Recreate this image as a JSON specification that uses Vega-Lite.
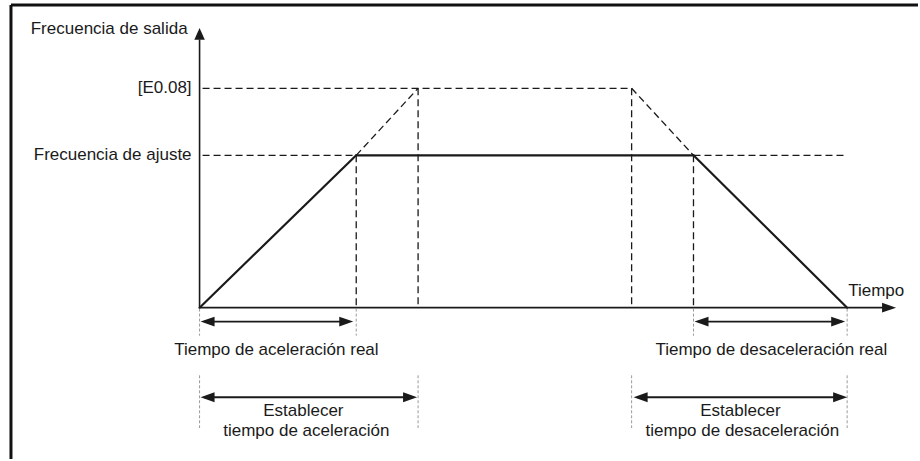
{
  "$schema": "https://vega.github.io/schema/vega-lite/v6.json",
  "width": 920,
  "height": 461,
  "padding": 0,
  "autosize": {"type": "fit", "contains": "padding"},
  "background": "white",
  "config": {"view": {"stroke": null}},
  "datasets": {
    "segments": [
      {"kind": "frame", "t": -18.9, "f": 99.35, "t2": 72, "f2": 99.35},
      {"kind": "frame", "t": -18.9, "f": 99.35, "t2": -18.9, "f2": -49.67},
      {"kind": "axis", "t": 0, "f": 0, "t2": 0, "f2": 88},
      {"kind": "axis", "t": 0, "f": 0, "t2": 68.6, "f2": 0},
      {"kind": "solid", "t": 0, "f": 0, "t2": 15.7, "f2": 50},
      {"kind": "solid", "t": 15.7, "f": 50, "t2": 49.5, "f2": 50},
      {"kind": "solid", "t": 49.5, "f": 50, "t2": 64.9, "f2": 0},
      {"kind": "dash", "t": 0.3, "f": 72, "t2": 43.3, "f2": 72},
      {"kind": "dash", "t": 0.3, "f": 50, "t2": 15.7, "f2": 50},
      {"kind": "dash", "t": 49.5, "f": 50, "t2": 64.9, "f2": 50},
      {"kind": "dash", "t": 15.7, "f": 50, "t2": 21.9, "f2": 72},
      {"kind": "dash", "t": 43.3, "f": 72, "t2": 49.5, "f2": 50},
      {"kind": "dash", "t": 15.7, "f": 50, "t2": 15.7, "f2": 0},
      {"kind": "dash", "t": 21.9, "f": 72, "t2": 21.9, "f2": 0.5},
      {"kind": "dash", "t": 43.3, "f": 72, "t2": 43.3, "f2": 0.5},
      {"kind": "dash", "t": 49.5, "f": 50, "t2": 49.5, "f2": 0},
      {"kind": "guide", "t": 0, "f": -0.3, "t2": 0, "f2": -9.2},
      {"kind": "guide", "t": 15.7, "f": -0.3, "t2": 15.7, "f2": -9.2},
      {"kind": "guide", "t": 49.5, "f": -0.3, "t2": 49.5, "f2": -9.2},
      {"kind": "guide", "t": 64.9, "f": -0.3, "t2": 64.9, "f2": -9.2},
      {"kind": "guide", "t": 0, "f": -22.2, "t2": 0, "f2": -39.5},
      {"kind": "guide", "t": 21.9, "f": -22.2, "t2": 21.9, "f2": -39.5},
      {"kind": "guide", "t": 43.3, "f": -22.2, "t2": 43.3, "f2": -39.5},
      {"kind": "guide", "t": 64.9, "f": -22.2, "t2": 64.9, "f2": -39.5},
      {"kind": "span", "t": 0.5, "f": -4.58, "t2": 15.0, "f2": -4.58},
      {"kind": "span", "t": 0.5, "f": -29.41, "t2": 21.4, "f2": -29.41},
      {"kind": "span", "t": 50.0, "f": -4.58, "t2": 64.4, "f2": -4.58},
      {"kind": "span", "t": 43.9, "f": -29.41, "t2": 64.4, "f2": -29.41}
    ],
    "heads": [
      {"dir": "up", "t": 0, "f": 91.8},
      {"dir": "right", "t": 69.8, "f": 0},
      {"dir": "left", "t": 0.1, "f": -4.58},
      {"dir": "right", "t": 15.4, "f": -4.58},
      {"dir": "left", "t": 0.1, "f": -29.41},
      {"dir": "right", "t": 21.8, "f": -29.41},
      {"dir": "left", "t": 49.6, "f": -4.58},
      {"dir": "right", "t": 64.7, "f": -4.58},
      {"dir": "left", "t": 43.5, "f": -29.41},
      {"dir": "right", "t": 64.9, "f": -29.41}
    ]
  },
  "layer": [
    {
      "data": {"name": "segments"},
      "transform": [{"filter": "datum.kind === 'frame'"}],
      "mark": {"type": "rule", "color": "#111111", "strokeWidth": 3},
      "encoding": {
        "x": {"field": "t", "type": "quantitative", "scale": {"domain": [-20, 72], "nice": false, "zero": false}, "axis": null},
        "y": {"field": "f", "type": "quantitative", "scale": {"domain": [-49.67, 100.98], "nice": false, "zero": false}, "axis": null},
        "x2": {"field": "t2"},
        "y2": {"field": "f2"}
      }
    },
    {
      "data": {"name": "segments"},
      "transform": [{"filter": "datum.kind === 'axis'"}],
      "mark": {"type": "rule", "color": "#1a1a1a", "strokeWidth": 1.6},
      "encoding": {
        "x": {"field": "t", "type": "quantitative"},
        "y": {"field": "f", "type": "quantitative"},
        "x2": {"field": "t2"},
        "y2": {"field": "f2"}
      }
    },
    {
      "data": {"name": "segments"},
      "transform": [{"filter": "datum.kind === 'dash'"}],
      "mark": {"type": "rule", "color": "#1a1a1a", "strokeWidth": 1.3, "strokeDash": [7, 4]},
      "encoding": {
        "x": {"field": "t", "type": "quantitative"},
        "y": {"field": "f", "type": "quantitative"},
        "x2": {"field": "t2"},
        "y2": {"field": "f2"}
      }
    },
    {
      "data": {"name": "segments"},
      "transform": [{"filter": "datum.kind === 'guide'"}],
      "mark": {"type": "rule", "color": "#9a9a9a", "strokeWidth": 1, "strokeDash": [3, 2]},
      "encoding": {
        "x": {"field": "t", "type": "quantitative"},
        "y": {"field": "f", "type": "quantitative"},
        "x2": {"field": "t2"},
        "y2": {"field": "f2"}
      }
    },
    {
      "data": {"name": "segments"},
      "transform": [{"filter": "datum.kind === 'solid'"}],
      "mark": {"type": "rule", "color": "#1a1a1a", "strokeWidth": 2.2, "strokeCap": "round"},
      "encoding": {
        "x": {"field": "t", "type": "quantitative"},
        "y": {"field": "f", "type": "quantitative"},
        "x2": {"field": "t2"},
        "y2": {"field": "f2"}
      }
    },
    {
      "data": {"name": "segments"},
      "transform": [{"filter": "datum.kind === 'span'"}],
      "mark": {"type": "rule", "color": "#1a1a1a", "strokeWidth": 1.8},
      "encoding": {
        "x": {"field": "t", "type": "quantitative"},
        "y": {"field": "f", "type": "quantitative"},
        "x2": {"field": "t2"},
        "y2": {"field": "f2"}
      }
    },
    {
      "data": {"name": "heads"},
      "mark": {"type": "point", "filled": true, "color": "#1a1a1a", "opacity": 1, "size": 196, "strokeWidth": 0},
      "encoding": {
        "x": {"field": "t", "type": "quantitative"},
        "y": {"field": "f", "type": "quantitative"},
        "shape": {
          "field": "dir",
          "type": "nominal",
          "scale": {
            "domain": ["up", "right", "left"],
            "range": ["M0,0L-0.75,1.7L0.75,1.7Z", "M0,0L-2,-0.7L-2,0.7Z", "M0,0L2,-0.7L2,0.7Z"]
          },
          "legend": null
        }
      }
    },
    {
      "data": {"values": [
        {"label": "Frecuencia de salida", "t": -1.2, "f": 91.5},
        {"label": "[E0.08]", "t": -0.8, "f": 72},
        {"label": "Frecuencia de ajuste", "t": -0.8, "f": 50}
      ]},
      "mark": {"type": "text", "align": "right", "baseline": "middle", "font": "Liberation Sans", "fontSize": 17, "color": "#1a1a1a"},
      "encoding": {
        "x": {"field": "t", "type": "quantitative"},
        "y": {"field": "f", "type": "quantitative"},
        "text": {"field": "label"}
      }
    },
    {
      "data": {"values": [
        {"label": "Tiempo", "t": 65, "f": 5.6}
      ]},
      "mark": {"type": "text", "align": "left", "baseline": "middle", "font": "Liberation Sans", "fontSize": 17, "color": "#1a1a1a"},
      "encoding": {
        "x": {"field": "t", "type": "quantitative"},
        "y": {"field": "f", "type": "quantitative"},
        "text": {"field": "label"}
      }
    },
    {
      "data": {"values": [
        {"label": "Tiempo de aceleración real", "t": 7.7, "f": -14.05},
        {"label": "Establecer", "t": 10.4, "f": -34},
        {"label": "tiempo de aceleración", "t": 10.7, "f": -40.5},
        {"label": "Tiempo de desaceleración real", "t": 57.3, "f": -14.05},
        {"label": "Establecer", "t": 54.2, "f": -34},
        {"label": "tiempo de desaceleración", "t": 54.4, "f": -40.5}
      ]},
      "mark": {"type": "text", "align": "center", "baseline": "middle", "font": "Liberation Sans", "fontSize": 17, "color": "#1a1a1a"},
      "encoding": {
        "x": {"field": "t", "type": "quantitative"},
        "y": {"field": "f", "type": "quantitative"},
        "text": {"field": "label"}
      }
    }
  ]
}
